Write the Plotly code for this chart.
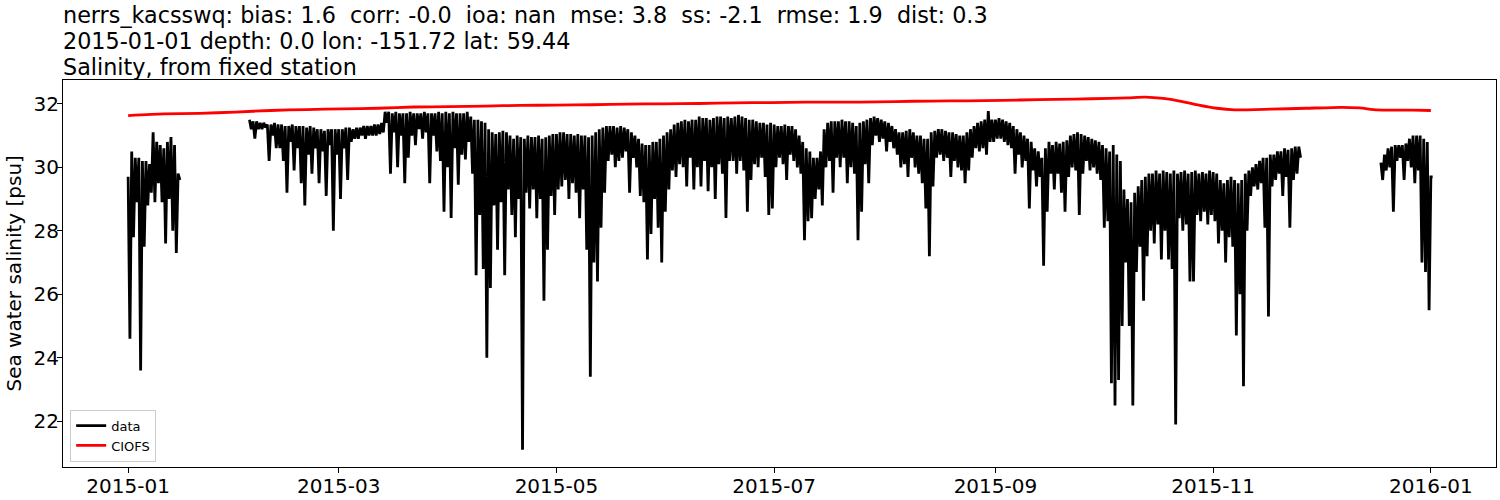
import pandas as pd
import plotly.graph_objects as go

# ---------------- data ----------------
title_lines = [
    "nerrs_kacsswq: bias: 1.6  corr: -0.0  ioa: nan  mse: 3.8  ss: -2.1  rmse: 1.9  dist: 0.3",
    "2015-01-01 depth: 0.0 lon: -151.72 lat: 59.44",
    "Salinity, from fixed station",
]
y_label = "Sea water salinity [psu]"
series_names = ["data", "CIOFS"]

x_tick_dates = ["2015-01-01", "2015-03-01", "2015-05-01", "2015-07-01",
                "2015-09-01", "2015-11-01", "2016-01-01"]
x_tick_labels = ["2015-01", "2015-03", "2015-05", "2015-07",
                 "2015-09", "2015-11", "2016-01"]
y_ticks = [22, 24, 26, 28, 30, 32]

# observed data: daily high / daily low, per continuous segment
seg1_start = "2015-01-01"
seg1_hi = [29.7, 30.5, 30.3, 30.3, 30.2, 30.2, 30.1, 31.1, 30.8, 30.7,
           30.6, 30.8, 30.95, 30.7, 29.8]
seg1_lo = [24.6, 27.8, 28.9, 23.6, 27.5, 28.8, 29.2, 28.9, 29.5, 28.9,
           27.6, 29.0, 28.0, 27.3, 29.6]

seg2_start = "2015-02-04"
seg2_hi = [31.5, 31.45, 31.45, 31.4, 31.4, 31.35, 31.35, 31.4, 31.35, 31.35,
           31.3, 31.3, 31.35, 31.3, 31.3, 31.3, 31.25, 31.3, 31.25, 31.2,
           31.2, 31.15, 31.2, 31.2, 31.2, 31.2, 31.2, 31.25, 31.25, 31.2,
           31.25, 31.25, 31.3, 31.3, 31.3, 31.35, 31.35, 31.4, 31.75, 31.75,
           31.7, 31.75, 31.7, 31.7, 31.7, 31.75, 31.7, 31.7, 31.7, 31.75,
           31.7, 31.7, 31.7, 31.75, 31.7, 31.75, 31.7, 31.75, 31.7, 31.7,
           31.7, 31.75, 31.6, 31.5, 31.5, 31.45, 31.4, 31.2, 31.1, 31.05,
           31.1, 31.15, 31.1, 31.0, 30.9, 31.0, 30.95, 30.9, 31.0, 30.95,
           30.95, 31.0, 30.9, 30.95, 31.0, 31.05, 31.05, 31.1, 31.1, 31.05,
           31.05, 31.0, 31.05, 31.0, 31.0, 30.95, 31.0, 31.1, 31.2, 31.25,
           31.3, 31.3, 31.3, 31.25, 31.3, 31.25, 31.2, 31.1, 31.0, 30.9,
           30.75, 30.7, 30.7, 30.8, 30.8, 30.9, 31.0, 31.1, 31.2, 31.35,
           31.4, 31.45, 31.5, 31.45, 31.5, 31.5, 31.6, 31.55, 31.55, 31.5,
           31.55, 31.6, 31.6, 31.55, 31.6, 31.55, 31.6, 31.65, 31.6, 31.55,
           31.5, 31.5, 31.45, 31.4, 31.4, 31.35, 31.4, 31.35, 31.3, 31.3,
           31.35, 31.3, 31.3, 31.2, 31.0, 30.8, 30.6, 30.5, 30.3, 30.3,
           30.5, 31.2, 31.4, 31.45, 31.45, 31.45, 31.5, 31.45, 31.45, 31.4,
           31.3, 31.4, 31.45, 31.5, 31.55, 31.6, 31.55, 31.5, 31.45, 31.4,
           31.3, 31.2, 31.1, 31.1, 31.15, 31.2, 31.1, 31.0, 31.0, 30.9,
           30.9, 31.1, 31.15, 31.2, 31.2, 31.15, 31.1, 31.1, 31.05, 31.0,
           31.0, 31.1, 31.2, 31.3, 31.4, 31.45, 31.5, 31.77, 31.5, 31.5,
           31.55, 31.5, 31.45, 31.4, 31.3, 31.2, 31.1, 31.0, 30.9, 30.8,
           30.6, 30.5, 30.3, 30.6, 30.8, 30.7, 30.8, 30.75, 30.8, 30.85,
           31.0, 31.05, 31.1, 31.05, 31.0, 30.95, 30.9, 30.85, 30.8, 30.7,
           30.6, 30.5, 30.7, 30.4, 30.2, 29.3, 29.0, 28.9, 29.2, 29.4,
           29.6, 29.7, 29.8, 29.8, 29.9, 29.8, 29.9, 29.85, 29.8, 29.9,
           29.8, 29.85, 29.9, 29.8, 29.85, 29.9, 29.8, 29.85, 29.8, 29.9,
           29.85, 29.8, 29.6, 29.5, 29.6, 29.7, 29.6, 29.5, 29.6, 29.8,
           29.9, 30.0, 30.1, 30.2, 30.3, 30.3, 30.4, 30.4, 30.5, 30.5,
           30.6, 30.55, 30.6, 30.65, 30.65]
seg2_lo = [31.2, 30.9, 31.2, 31.2, 31.25, 30.2, 31.0, 30.6, 30.6, 30.2,
           29.2, 30.8, 29.9, 30.6, 29.5, 28.8, 30.4, 29.8, 30.6, 29.5,
           30.5, 29.1, 30.7, 28.0, 30.4, 29.0, 30.6, 29.6, 30.8, 30.9,
           30.9, 31.0, 30.9, 31.0, 31.0, 31.0, 31.05, 31.1, 31.4, 29.8,
           31.1, 30.0, 31.0, 29.5, 30.3, 31.0, 30.7, 31.2, 30.9, 31.1,
           29.5, 31.0, 30.5, 30.2, 28.6, 30.0, 28.4, 30.6, 29.45, 30.4,
           30.25, 30.8, 29.8, 26.6, 28.5, 26.8, 24.0, 26.2, 28.8, 27.4,
           28.9, 26.6, 29.3, 28.5, 27.8, 29.0, 21.1, 29.2, 28.7, 29.3,
           28.4, 29.0, 25.8, 27.4, 29.1, 28.5, 29.3, 29.4, 29.6, 29.0,
           29.5, 29.2, 28.4, 29.3, 27.4, 23.4, 27.0, 26.4, 28.1, 29.2,
           30.2, 30.4, 30.0, 30.2, 30.3, 30.5, 29.2, 30.3, 30.0, 29.1,
           28.9, 27.1, 27.9, 29.0, 28.1, 27.0, 28.6, 29.3, 29.9, 29.7,
           30.1, 30.0, 29.4, 30.3, 29.3, 30.0, 29.4, 30.2, 29.25, 30.0,
           29.0, 30.1, 29.8, 28.4, 30.2, 30.2, 29.8, 30.2, 29.9, 28.6,
           29.6, 30.1, 30.0, 30.3, 29.7, 28.5, 28.7, 30.0, 30.3, 30.1,
           29.6, 30.4, 30.2, 30.0, 29.8, 27.7, 28.3, 28.4, 29.0, 29.3,
           28.8, 30.0, 30.2, 29.2, 30.3, 30.0, 30.3, 29.5, 30.0, 29.8,
           27.7, 28.6, 30.1, 29.5, 30.7, 31.0, 30.8, 30.9, 30.5, 30.8,
           30.6, 30.4, 30.0, 30.1, 29.7, 30.3, 30.0, 29.8, 29.5, 28.7,
           27.2, 29.4, 30.3, 30.4, 30.2, 30.3, 29.7, 30.2, 30.0, 29.9,
           29.5, 29.9, 30.3, 30.6, 30.5, 30.6, 30.4, 30.8, 30.8, 30.9,
           30.9, 30.8, 30.7, 30.6, 29.8, 30.4, 30.0, 30.2, 28.7, 29.9,
           29.4, 29.7, 26.9, 28.6, 29.8, 29.3, 29.8, 29.2, 28.6, 29.7,
           30.0, 29.9, 28.5, 29.8, 30.2, 29.9, 30.0, 29.8, 29.6, 28.1,
           28.3, 23.2, 22.5, 23.3, 25.0, 27.0, 25.0, 22.5, 26.7, 27.5,
           25.8, 27.2, 28.0, 27.6, 28.2, 27.1, 28.0, 27.1, 26.8, 21.9,
           28.4, 28.0, 28.2, 26.4, 26.4, 28.5, 28.3, 28.6, 28.2, 28.5,
           28.3, 27.6, 28.0, 27.0, 27.8, 27.5, 24.7, 26.0, 23.1, 28.0,
           29.1, 29.4, 29.3, 29.5, 28.1, 25.3, 29.4, 29.6, 29.8, 29.1,
           29.7, 28.1, 29.6, 29.8, 30.3]

seg3_start = "2015-12-18"
seg3_hi = [30.15, 30.4, 30.6, 30.65, 30.7, 30.7, 30.7, 30.75, 30.9, 31.0,
           31.0, 31.0, 30.9, 30.8, 29.7]
seg3_lo = [29.6, 29.9, 30.0, 28.6, 30.2, 30.3, 29.6, 30.2, 30.0, 29.5,
           29.9, 27.0, 26.7, 25.5, 29.7]

# model (CIOFS): day offset from 2015-01-01 and salinity
ciofs_day = [0, 10, 20, 30, 40, 50, 60, 70, 80, 90, 100, 110, 120, 130, 140,
             150, 160, 170, 180, 190, 200, 210, 220, 230, 240, 250, 260, 270,
             280, 285, 290, 295, 300, 305, 310, 320, 330, 340, 345, 350, 360, 365]
ciofs_val = [31.63, 31.68, 31.70, 31.74, 31.79, 31.82, 31.84, 31.86, 31.90, 31.91,
             31.93, 31.95, 31.96, 31.97, 31.99, 32.00, 32.01, 32.03, 32.04, 32.05,
             32.05, 32.06, 32.08, 32.09, 32.10, 32.12, 32.14, 32.16, 32.19, 32.21,
             32.17, 32.08, 31.96, 31.86, 31.81, 31.83, 31.86, 31.89, 31.87, 31.81,
             31.80, 31.79]
ciofs_start = "2015-01-01"


# ---------------- build traces ----------------
def segment_path(start, hi, lo):
    t0 = pd.Timestamp(start)
    xs, ys = [], []
    for i, (h, l) in enumerate(zip(hi, lo)):
        xs.append(t0 + pd.Timedelta(days=i))
        ys.append(h)
        xs.append(t0 + pd.Timedelta(hours=24 * i + 12))
        ys.append(l)
    return xs, ys


obs_x, obs_y = [], []
for st, hi, lo in [(seg1_start, seg1_hi, seg1_lo),
                   (seg2_start, seg2_hi, seg2_lo),
                   (seg3_start, seg3_hi, seg3_lo)]:
    sx, sy = segment_path(st, hi, lo)
    if obs_x:
        obs_x.append(None)
        obs_y.append(None)
    obs_x += sx
    obs_y += sy

c0 = pd.Timestamp(ciofs_start)
ciofs_x = [c0 + pd.Timedelta(days=d) for d in ciofs_day]

FONT = "DejaVu Sans"
TICK_SIZE = 20
TITLE_SIZE = 22.3
PLOT_LEFT, PLOT_RIGHT = 63, 1496
PLOT_TOP, PLOT_BOTTOM = 80, 467
PLOT_H = PLOT_BOTTOM - PLOT_TOP

fig = go.Figure()
fig.add_trace(go.Scatter(x=obs_x, y=obs_y, mode="lines", name=series_names[0],
                         line=dict(color="black", width=2.8), connectgaps=False))
fig.add_trace(go.Scatter(x=ciofs_x, y=ciofs_val, mode="lines", name=series_names[1],
                         line=dict(color="red", width=2.8, shape="spline", smoothing=0.6)))

title_centers = [15, 41, 67]
for line, yc in zip(title_lines, title_centers):
    fig.add_annotation(text=line.replace("  ", "\u00a0\u00a0"), xref="paper", yref="paper",
                       x=0, y=1 + (PLOT_TOP - yc) / PLOT_H,
                       xanchor="left", yanchor="middle", showarrow=False,
                       xshift=-2, font=dict(family=FONT, size=TITLE_SIZE, color="black"))

# y-axis label (placed as rotated text left of the tick labels)
fig.add_annotation(text=y_label, xref="paper", yref="paper", x=0, y=0.5,
                   xanchor="center", yanchor="middle", xshift=13 - PLOT_LEFT,
                   textangle=-90, showarrow=False,
                   font=dict(family=FONT, size=TICK_SIZE, color="black"))

fig.update_layout(
    width=1500, height=500,
    margin=dict(l=PLOT_LEFT, r=1500 - PLOT_RIGHT,
                t=PLOT_TOP, b=500 - PLOT_BOTTOM, autoexpand=False),
    paper_bgcolor="white", plot_bgcolor="white",
    font=dict(family=FONT, size=TICK_SIZE, color="black"),
    showlegend=True,
    legend=dict(x=0.005, y=0.014, xanchor="left", yanchor="bottom",
                bgcolor="rgba(255,255,255,0.8)", bordercolor="#cccccc", borderwidth=1,
                font=dict(family=FONT, size=13, color="black"),
                tracegroupgap=0, itemwidth=30),
    xaxis=dict(range=["2014-12-13 18:00", "2016-01-19 06:00"], automargin=False,
               tickmode="array", tickvals=x_tick_dates, ticktext=x_tick_labels,
               showgrid=False, zeroline=False, showline=True, mirror=True,
               linecolor="black", linewidth=1.1, ticks="outside", ticklen=5,
               tickwidth=1.1, tickcolor="black", ticklabelstandoff=-4,
               tickfont=dict(family=FONT, size=TICK_SIZE, color="black")),
    yaxis=dict(range=[20.56, 32.75], tickmode="array", tickvals=y_ticks, automargin=False,
               ticktext=[str(v) for v in y_ticks],
               showgrid=False, zeroline=False, showline=True, mirror=True,
               linecolor="black", linewidth=1.1, ticks="outside", ticklen=5,
               tickwidth=1.1, tickcolor="black", ticklabelstandoff=-6,
               tickfont=dict(family=FONT, size=TICK_SIZE, color="black")),
)

# remove the browser's default 8px page margin so the figure sits at (0, 0)
fig.write_html("out.html", config={"displayModeBar": False},
               post_script="document.body.style.margin='0px';")
